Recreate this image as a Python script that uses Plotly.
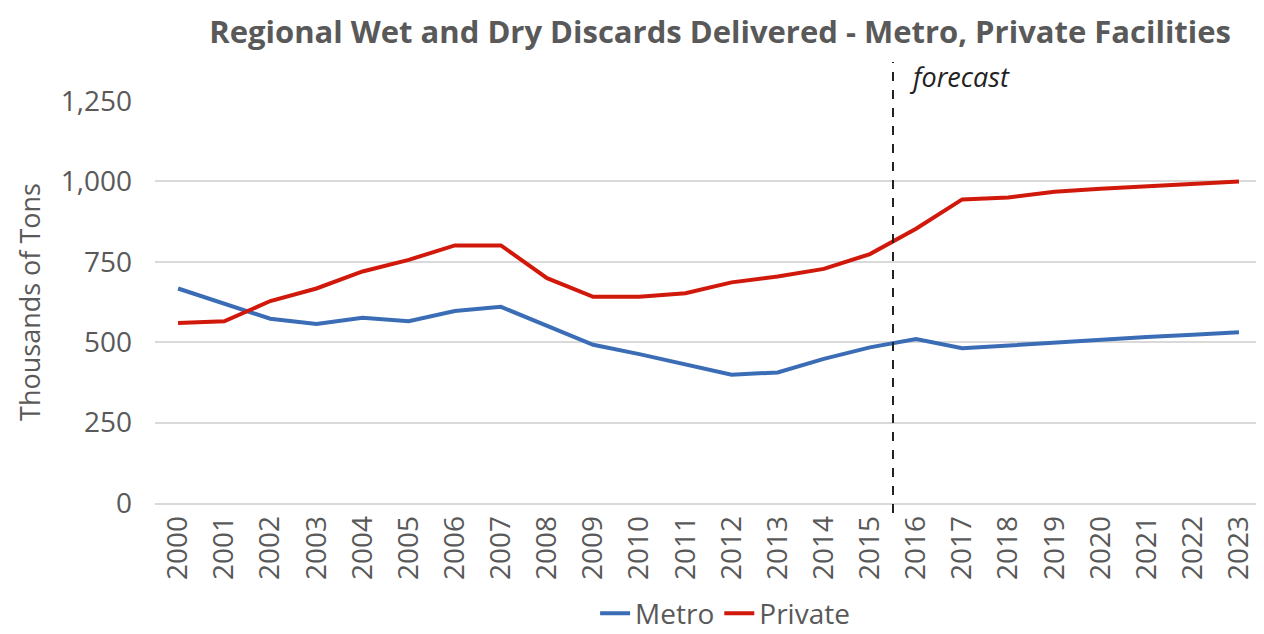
import plotly.graph_objects as go

years = [str(y) for y in range(2000, 2024)]
metro = [667, 620, 573, 557, 576, 565, 597, 610, 552, 492, 463, 432, 399, 406, 448, 484,
         510, 481, 490, 500, 508, 516, 523, 531]
private = [560, 565, 628, 667, 720, 756, 801, 801, 699, 641, 641, 652, 686, 704, 728, 774,
           853, 944, 950, 968, 977, 985, 992, 1000]
y_ticks = [0, 250, 500, 750, 1000, 1250]
y_tick_labels = ["0", "250", "500", "750", "1,000", "1,250"]

FONT = "Open Sans"
GRAY = "#595959"

fig = go.Figure()
fig.add_trace(go.Scatter(x=years, y=metro, mode="lines", name="Metro",
                         line=dict(color="#3A6DB5", width=4)))
fig.add_trace(go.Scatter(x=years, y=private, mode="lines", name="Private",
                         line=dict(color="#D0190B", width=4)))

fig.add_shape(type="line", xref="x", yref="paper", x0=15.5, x1=15.5, y0=-0.025, y1=1.097,
              line=dict(color="#222222", width=2, dash="dash"))
fig.add_annotation(text="<i>forecast</i>", xref="x", yref="paper", x=15.8, y=1.06,
                   xanchor="left", yanchor="middle", showarrow=False,
                   font=dict(family=FONT, size=27, color="#222222"))

fig.update_layout(
    width=1256, height=626,
    margin=dict(l=147, r=2, t=93, b=131, autoexpand=False),
    paper_bgcolor="white", plot_bgcolor="white",
    title=dict(text="<b>Regional Wet and Dry Discards Delivered - Metro, Private Facilities</b>",
               x=0.567, xanchor="center", y=0.962, yanchor="middle", automargin=False,
               font=dict(family=FONT, size=31, color=GRAY)),
    font=dict(family=FONT, color=GRAY),
    showlegend=True,
    legend=dict(orientation="h", x=0.515, xanchor="center", y=-0.275, yanchor="middle",
                font=dict(family=FONT, size=28, color=GRAY)),
    xaxis=dict(type="category", range=[-0.5, 23.5], tickangle=-90, automargin=False,
               tickfont=dict(family=FONT, size=28, color=GRAY),
               showgrid=False, showline=True, linecolor="#D9D9D9", linewidth=1.5,
               ticks=""),
    yaxis=dict(range=[0, 1250], tickvals=y_ticks, ticktext=y_tick_labels, automargin=False,
               tickfont=dict(family=FONT, size=28, color=GRAY),
               showgrid=True, gridcolor="#D9D9D9", gridwidth=1.5, zeroline=False,
               showline=False, ticks="", ticklabelstandoff=22,
               title=dict(text="Thousands of Tons", standoff=12,
                          font=dict(family=FONT, size=27, color=GRAY))),
)

fig.write_html("out.html")
